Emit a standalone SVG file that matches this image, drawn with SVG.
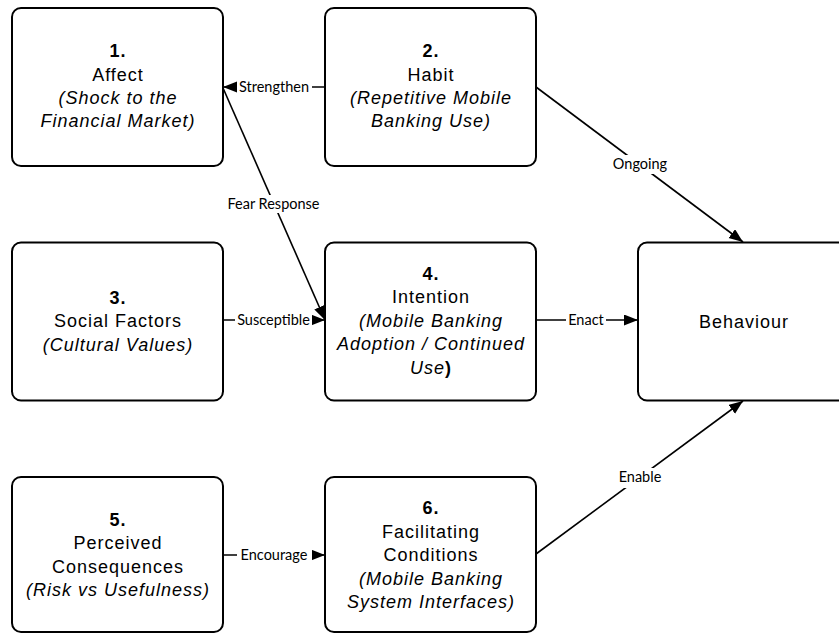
<svg xmlns="http://www.w3.org/2000/svg" width="839" height="633" viewBox="0 0 839 633">
  <style>
    .box { fill: #ffffff; stroke: #000000; stroke-width: 2; }
    .t { font-family: "Liberation Sans", Arial, sans-serif; font-size: 18px; letter-spacing: 1px; fill: #000000; text-anchor: middle; }
    .b { font-weight: bold; }
    .i { font-style: italic; }
    .edge { fill: none; stroke: #000000; stroke-width: 1.6; }
    .lbl { font-family: Lato, "Open Sans", sans-serif; font-size: 14.5px; fill: #000000; text-anchor: middle; }
    .gap { fill: #ffffff; stroke: none; }
  </style>
  <defs>
    <marker id="arrow" markerUnits="userSpaceOnUse" markerWidth="15" markerHeight="12" refX="14" refY="5.5" orient="auto">
      <path d="M0,0 L14,5.5 L0,11 z" fill="#000000"/>
    </marker>
  </defs>
  <rect width="839" height="633" fill="#ffffff"/>

  <!-- connectors -->
  <g id="connectors">
    <!-- Habit -> Affect -->
    <line class="edge" x1="325" y1="87" x2="223" y2="87" marker-end="url(#arrow)"/>
    <rect class="gap" x="237" y="78" width="75" height="18"/>
    <text class="lbl" x="274" y="92">Strengthen</text>

    <!-- Affect -> Intention -->
    <line class="edge" x1="223" y1="88" x2="325" y2="320" marker-end="url(#arrow)"/>
    <rect class="gap" x="224" y="195" width="99" height="18"/>
    <text class="lbl" x="273.5" y="209">Fear Response</text>

    <!-- Social Factors -> Intention -->
    <line class="edge" x1="223" y1="320" x2="325" y2="320" marker-end="url(#arrow)"/>
    <rect class="gap" x="235" y="311" width="77" height="18"/>
    <text class="lbl" x="273.5" y="325">Susceptible</text>

    <!-- Intention -> Behaviour -->
    <line class="edge" x1="536" y1="320" x2="638" y2="320" marker-end="url(#arrow)"/>
    <rect class="gap" x="566" y="311" width="40" height="18"/>
    <text class="lbl" x="586" y="325">Enact</text>

    <!-- Habit -> Behaviour -->
    <line class="edge" x1="536" y1="87" x2="743" y2="242" marker-end="url(#arrow)"/>
    <rect class="gap" x="610" y="155" width="60" height="19"/>
    <text class="lbl" x="640" y="169">Ongoing</text>

    <!-- Perceived Consequences -> Facilitating Conditions -->
    <line class="edge" x1="223" y1="555" x2="325" y2="555" marker-end="url(#arrow)"/>
    <rect class="gap" x="237" y="546" width="75" height="18"/>
    <text class="lbl" x="274" y="560">Encourage</text>

    <!-- Facilitating Conditions -> Behaviour -->
    <line class="edge" x1="536" y1="554" x2="743" y2="401" marker-end="url(#arrow)"/>
    <rect class="gap" x="616" y="468" width="48" height="20"/>
    <text class="lbl" x="640" y="482">Enable</text>
  </g>

  <!-- 1. Affect -->
  <g id="affect">
    <rect class="box" x="12" y="8" width="211" height="158" rx="9"/>
    <text class="t b" x="118" y="57">1.</text>
    <text class="t" x="118" y="80.5">Affect</text>
    <text class="t i" x="118" y="103.5">(Shock to the</text>
    <text class="t i" x="118" y="126.5">Financial Market)</text>
  </g>

  <!-- 2. Habit -->
  <g id="habit">
    <rect class="box" x="325" y="8" width="211" height="158" rx="9"/>
    <text class="t b" x="431" y="57">2.</text>
    <text class="t" x="431" y="80.5">Habit</text>
    <text class="t i" x="431" y="103.5">(Repetitive Mobile</text>
    <text class="t i" x="431" y="126.5">Banking Use)</text>
  </g>

  <!-- 3. Social Factors -->
  <g id="social-factors">
    <rect class="box" x="12" y="242.5" width="211" height="158" rx="9"/>
    <text class="t b" x="118" y="303.5">3.</text>
    <text class="t" x="118" y="327">Social Factors</text>
    <text class="t i" x="118" y="350.5">(Cultural Values)</text>
  </g>

  <!-- 4. Intention -->
  <g id="intention">
    <rect class="box" x="325" y="242.5" width="211" height="158" rx="9"/>
    <text class="t b" x="431" y="279.5">4.</text>
    <text class="t" x="431" y="303">Intention</text>
    <text class="t i" x="431" y="326.5">(Mobile Banking</text>
    <text class="t i" x="431" y="350">Adoption / Continued</text>
    <text class="t" x="431" y="373.5"><tspan class="i">Use</tspan><tspan class="b">)</tspan></text>
  </g>

  <!-- Behaviour -->
  <g id="behaviour">
    <rect class="box" x="638" y="242.5" width="211" height="158" rx="9"/>
    <text class="t" x="744" y="327.5">Behaviour</text>
  </g>

  <!-- 5. Perceived Consequences -->
  <g id="perceived-consequences">
    <rect class="box" x="12" y="477" width="211" height="155" rx="9"/>
    <text class="t b" x="118" y="525.5">5.</text>
    <text class="t" x="118" y="549">Perceived</text>
    <text class="t" x="118" y="572.5">Consequences</text>
    <text class="t i" x="118" y="596">(Risk vs Usefulness)</text>
  </g>

  <!-- 6. Facilitating Conditions -->
  <g id="facilitating-conditions">
    <rect class="box" x="325" y="477" width="211" height="155" rx="9"/>
    <text class="t b" x="431" y="514">6.</text>
    <text class="t" x="431" y="537.5">Facilitating</text>
    <text class="t" x="431" y="561">Conditions</text>
    <text class="t i" x="431" y="584.5">(Mobile Banking</text>
    <text class="t i" x="431" y="608">System Interfaces)</text>
  </g>
</svg>
